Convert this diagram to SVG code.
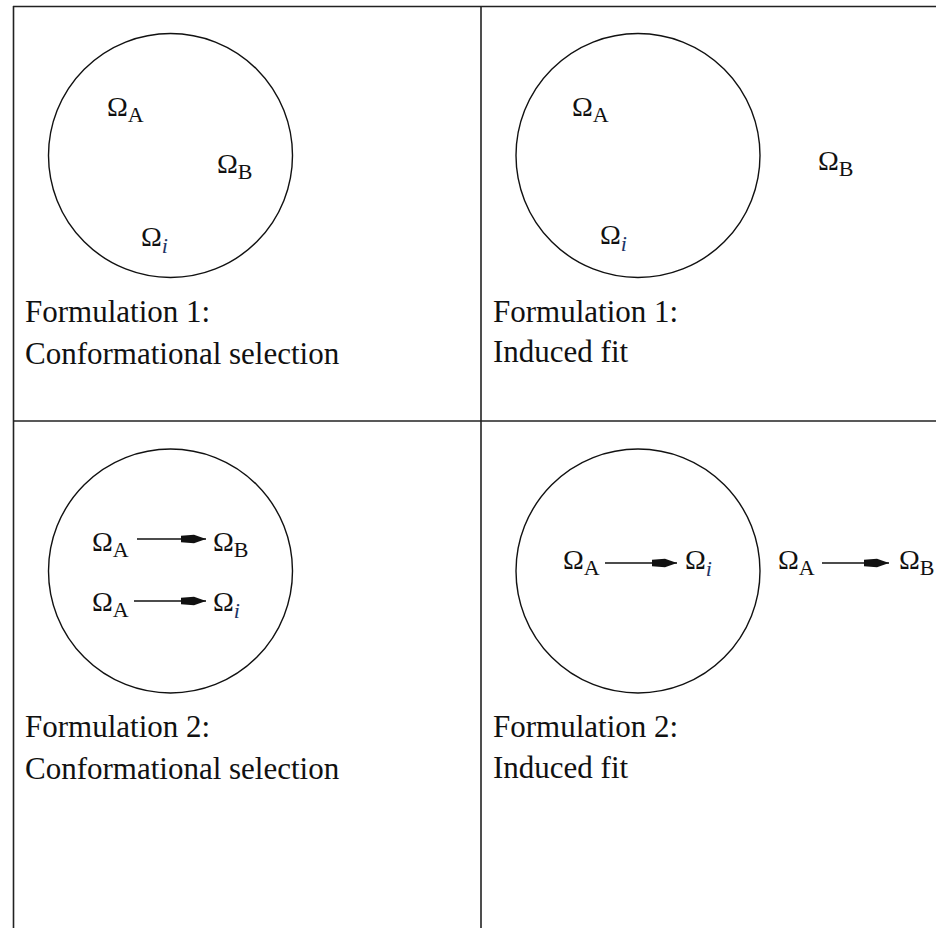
<svg xmlns="http://www.w3.org/2000/svg" width="936" height="928" viewBox="0 0 936 928">
<style>
  .frame{stroke:#222;stroke-width:1.6;fill:none}
  .circ{stroke:#111;stroke-width:1.4;fill:none}
  .om{font-size:28px;fill:#111}
  .sub{font-size:22px}
  .it{font-style:italic;fill:#1c3466}
  .lbl{font-size:31px;fill:#111}
  .arr{stroke:#111;stroke-width:1.4;fill:none;marker-end:url(#head)}
</style>
<defs>
  <marker id="head" viewBox="0 -5 25 10" refX="25" refY="0" markerWidth="25" markerHeight="10" markerUnits="userSpaceOnUse" orient="auto">
    <path d="M0,-3.2 L13,-4.2 L25,0 L13,4.2 L0,3.2 Z" fill="#111"/>
  </marker>
</defs>
<rect width="936" height="928" fill="#fff"/>
<g id="table">
  <line class="frame" x1="13.5" y1="6" x2="13.5" y2="928"/>
  <line class="frame" x1="13" y1="6.5" x2="936" y2="6.5"/>
  <line class="frame" x1="481" y1="6" x2="481" y2="928"/>
  <line class="frame" x1="13" y1="421" x2="936" y2="421"/>
</g>
<g font-family="'Liberation Serif', 'Times New Roman', serif">
<g id="panel-1cs">
  <circle class="circ" cx="170.5" cy="155.5" r="122"/>
  <text class="om" x="107" y="116">Ω<tspan class="sub" dy="6">A</tspan></text>
  <text class="om" x="217" y="173">Ω<tspan class="sub" dy="6">B</tspan></text>
  <text class="om" x="141" y="246">Ω<tspan class="sub it" dy="7">i</tspan></text>
  <text class="lbl" x="25" y="322">Formulation 1:</text>
  <text class="lbl" x="25" y="364">Conformational selection</text>
</g>
<g id="panel-1if">
  <circle class="circ" cx="638" cy="155.5" r="122"/>
  <text class="om" x="572" y="116">Ω<tspan class="sub" dy="6">A</tspan></text>
  <text class="om" x="818" y="170">Ω<tspan class="sub" dy="6">B</tspan></text>
  <text class="om" x="600" y="244">Ω<tspan class="sub it" dy="7">i</tspan></text>
  <text class="lbl" x="493" y="322">Formulation 1:</text>
  <text class="lbl" x="493" y="362">Induced fit</text>
</g>
<g id="panel-2cs">
  <circle class="circ" cx="170.5" cy="571" r="122"/>
  <text class="om" x="92" y="551">Ω<tspan class="sub" dy="6">A</tspan></text>
  <text class="om" x="213" y="551">Ω<tspan class="sub" dy="6">B</tspan></text>
  <text class="om" x="92" y="611">Ω<tspan class="sub" dy="6">A</tspan></text>
  <text class="om" x="213" y="611">Ω<tspan class="sub it" dy="7">i</tspan></text>
  <text class="lbl" x="25" y="737">Formulation 2:</text>
  <text class="lbl" x="25" y="779">Conformational selection</text>
</g>
<g id="panel-2if">
  <circle class="circ" cx="638" cy="571" r="122"/>
  <text class="om" x="563" y="569">Ω<tspan class="sub" dy="6">A</tspan></text>
  <text class="om" x="685" y="569">Ω<tspan class="sub it" dy="7">i</tspan></text>
  <text class="om" x="778" y="569">Ω<tspan class="sub" dy="6">A</tspan></text>
  <text class="om" x="899" y="569">Ω<tspan class="sub" dy="6">B</tspan></text>
  <text class="lbl" x="493" y="737">Formulation 2:</text>
  <text class="lbl" x="493" y="778">Induced fit</text>
</g>
</g>
<g id="connectors">
  <line class="arr" x1="137" y1="539" x2="206" y2="539"/>
  <line class="arr" x1="134" y1="601" x2="206" y2="601"/>
  <line class="arr" x1="605" y1="563" x2="677" y2="563"/>
  <line class="arr" x1="822" y1="563" x2="889" y2="563"/>
</g>
</svg>
